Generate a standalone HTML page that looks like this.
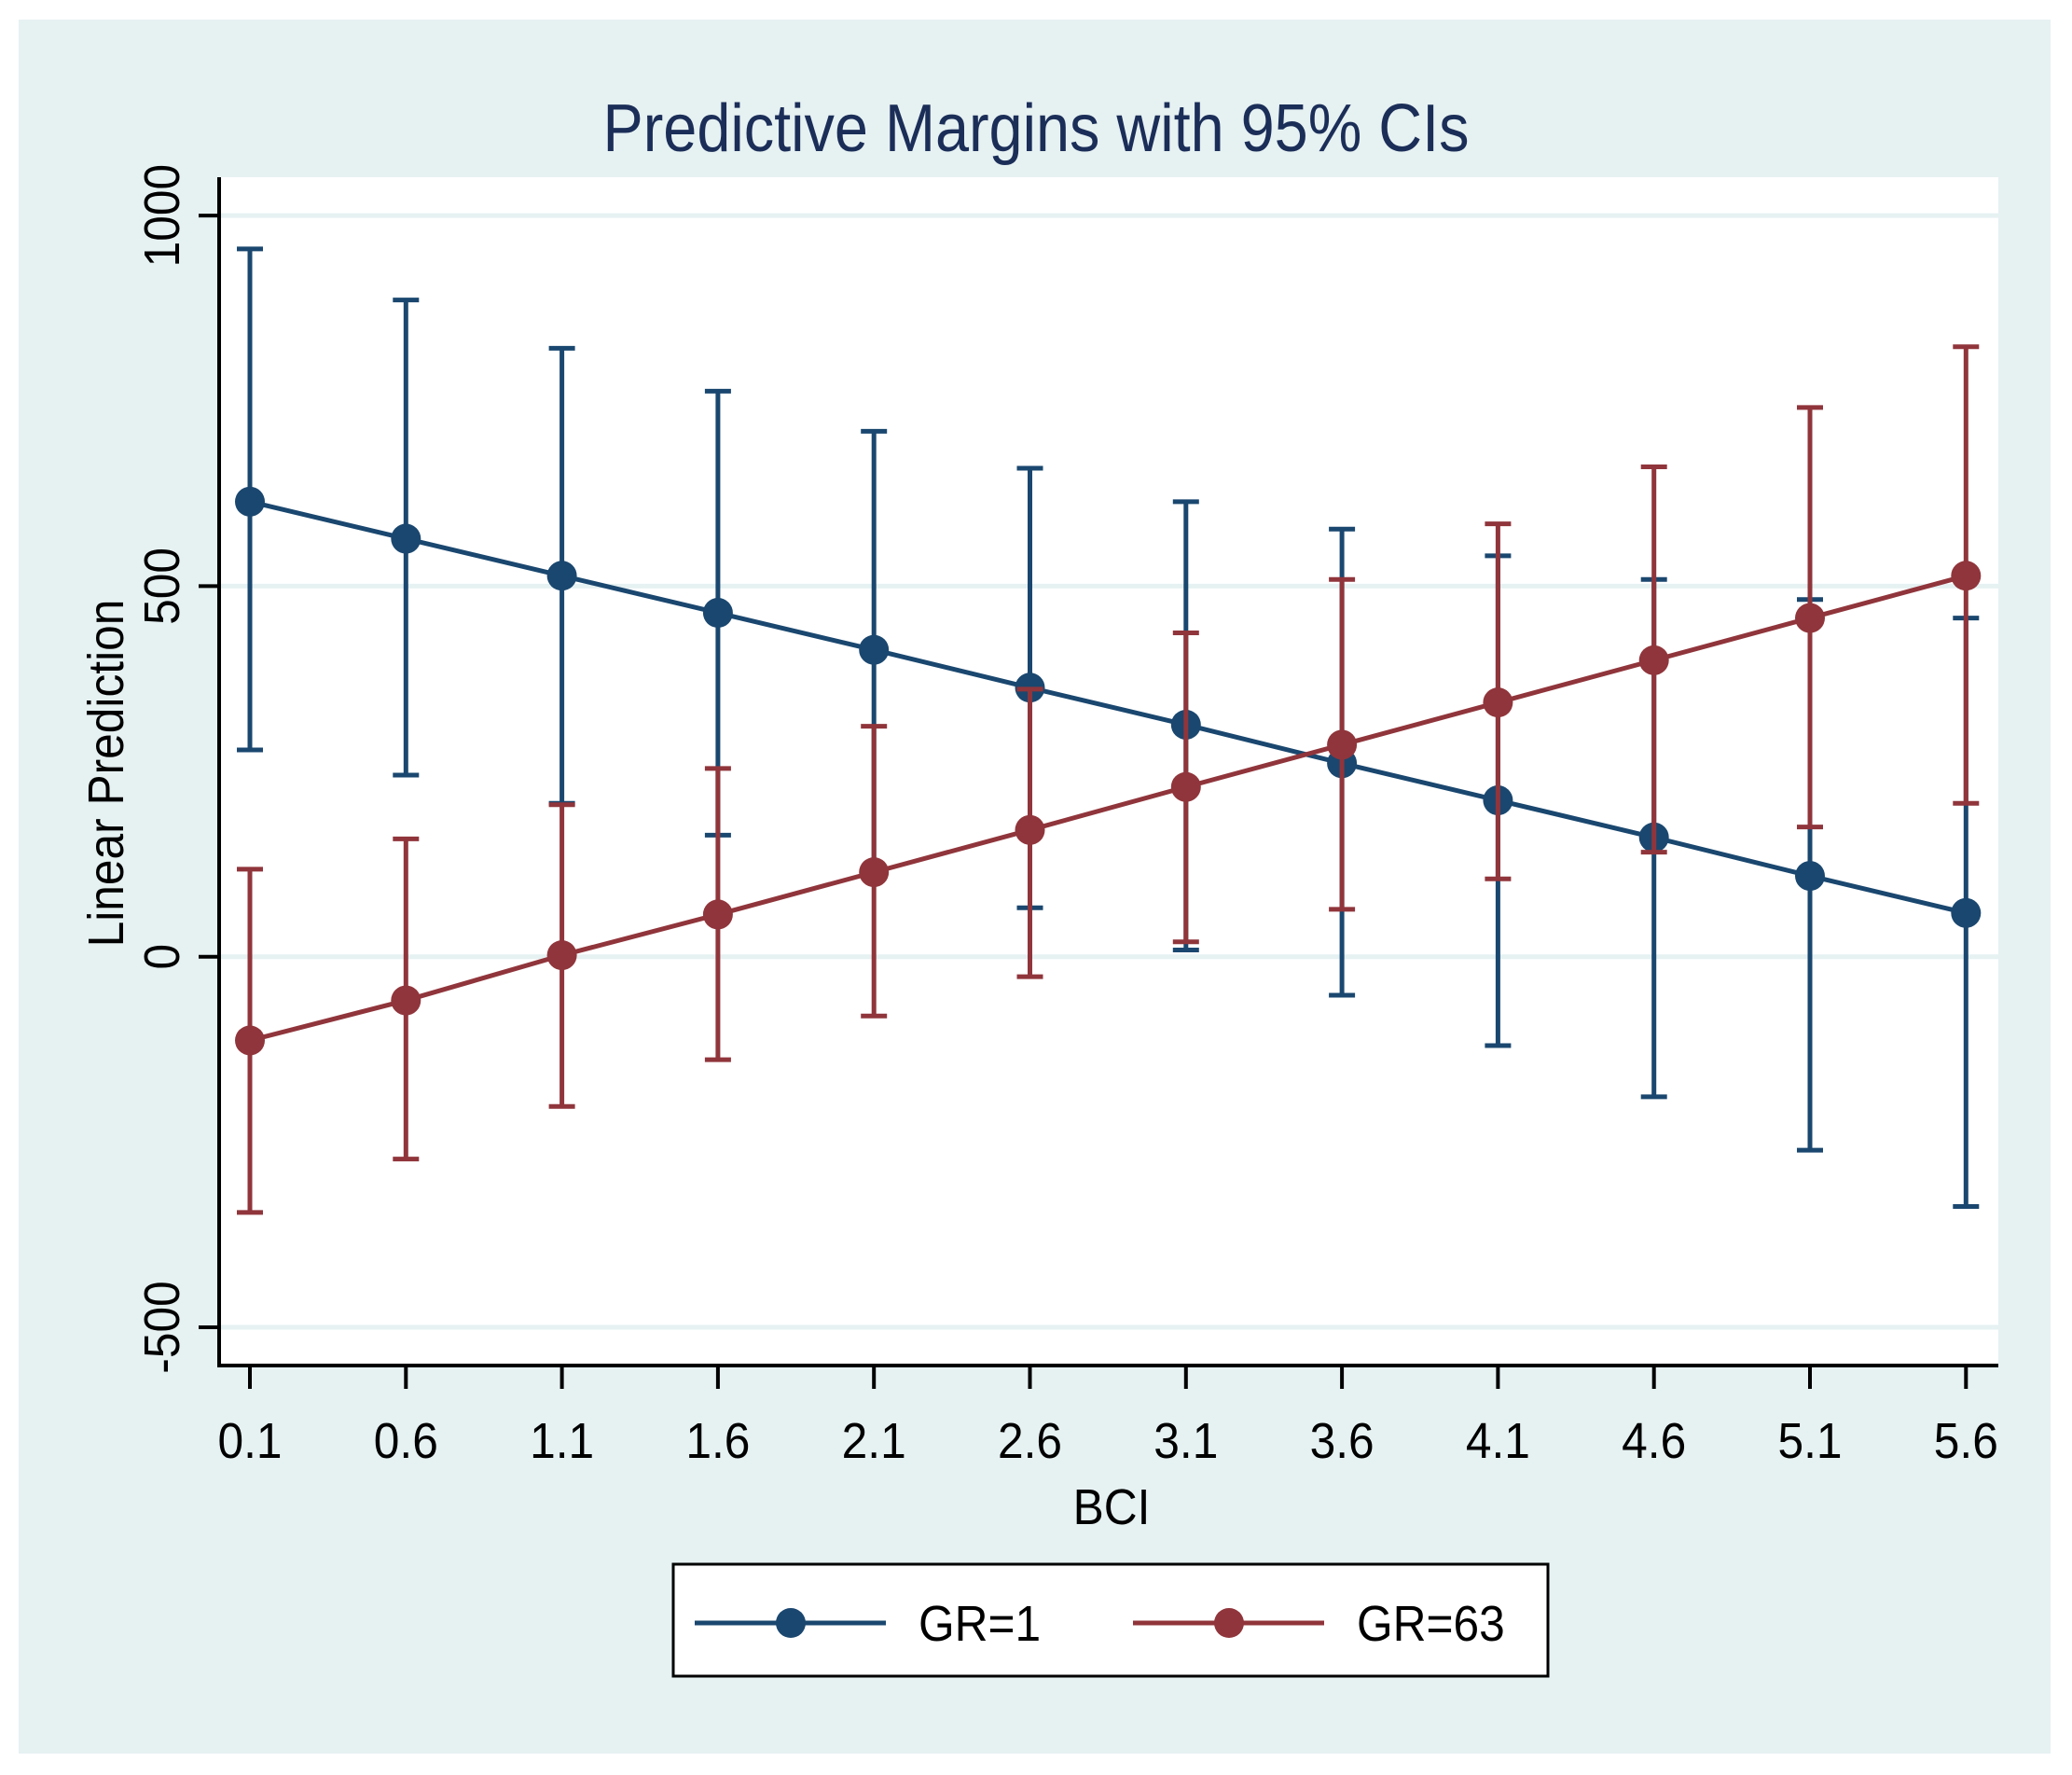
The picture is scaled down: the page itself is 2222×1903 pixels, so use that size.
<!DOCTYPE html>
<html><head><meta charset="utf-8"><style>
html,body{margin:0;padding:0;background:#fff;}
svg{display:block;font-family:"Liberation Sans",Arial,sans-serif;}
</style></head><body>
<svg id="chart" width="2222" height="1903" viewBox="0 0 2222 1903" xmlns="http://www.w3.org/2000/svg">
<rect x="0" y="0" width="2222" height="1903" fill="#ffffff"/>
<rect x="20" y="21" width="2179" height="1859" fill="#e6f1f2"/>
<rect x="235" y="190" width="1908" height="1274" fill="#ffffff"/>
<text transform="translate(1111,162) scale(0.9,1)" font-size="72" fill="#1b2e58" text-anchor="middle">Predictive Margins with 95% CIs</text>
<g id="grid"></g>
<g id="axes"></g>
<g id="series"></g>
<text transform="translate(1192,1634) scale(0.92,1)" font-size="54" text-anchor="middle">BCI</text>
<text transform="translate(132,829) rotate(-90) scale(0.92,1)" font-size="54" text-anchor="middle">Linear Prediction</text>
<g>
<rect x="722" y="1677" width="938" height="120" fill="#fff" stroke="#000" stroke-width="3"/>
<g>
<line x1="745" y1="1740" x2="950" y2="1740" stroke="#1a476f" stroke-width="5"/>
<circle cx="848" cy="1740" r="16" fill="#1a476f"/>
<text transform="translate(985,1759) scale(0.92,1)" font-size="54">GR=1</text>
</g>
<g>
<line x1="1215" y1="1740" x2="1420" y2="1740" stroke="#90353b" stroke-width="5"/>
<circle cx="1318" cy="1740" r="16" fill="#90353b"/>
<text transform="translate(1455,1759) scale(0.92,1)" font-size="54">GR=63</text>
</g>
</g>
</svg>
<script>
const categories = [0.1,0.6,1.1,1.6,2.1,2.6,3.1,3.6,4.1,4.6,5.1,5.6];
const xTickLabels = ["0.1","0.6","1.1","1.6","2.1","2.6","3.1","3.6","4.1","4.6","5.1","5.6"];
const yTicks = [-500,0,500,1000];
const gr1Values = [614,564,514,464,414,363,313,261,211,161,109,59];
const gr1Upper = [955,886,821,763,709,659,614,577,541,509,482,457];
const gr1Lower = [279,245,207,164,118,66,9,-52,-120,-189,-261,-337];
const gr63Values = [-113,-59,2,57,114,171,229,286,343,400,457,514];
const gr63Upper = [118,159,205,254,311,361,437,509,584,661,741,823];
const gr63Lower = [-345,-273,-202,-139,-80,-27,20,64,105,141,175,207];

const NS="http://www.w3.org/2000/svg";
function xS(v){return 268+(v-0.1)/0.5*167.3;}
function yS(v){return 1025.7-v*(397.3/500);}
function mk(tag,attrs,parent){const e=document.createElementNS(NS,tag);for(const k in attrs)e.setAttribute(k,attrs[k]);parent.appendChild(e);return e;}
const grid=document.getElementById('grid'),axes=document.getElementById('axes'),series=document.getElementById('series');
yTicks.forEach(t=>{
  const g=mk('line',{x1:237,x2:2143,y1:yS(t),y2:yS(t),stroke:'#e6f1f2','stroke-width':5},grid);
  
  
  const tk=mk('line',{x1:213,x2:235,y1:yS(t),y2:yS(t),stroke:'#000','stroke-width':4},axes);
  
  
  const lb=mk('text',{transform:`translate(192,${yS(t)}) rotate(-90) scale(0.92,1)`,'font-size':54,'text-anchor':'middle'},axes);
  lb.textContent=t;
  
  
});
const ya=mk('line',{x1:235,x2:235,y1:190,y2:1466,stroke:'#000','stroke-width':4},axes);


const xa=mk('line',{x1:233,x2:2143,y1:1464,y2:1464,stroke:'#000','stroke-width':4},axes);


categories.forEach((c,i)=>{
  const tk=mk('line',{x1:xS(c),x2:xS(c),y1:1464,y2:1489,stroke:'#000','stroke-width':4},axes);
  
  
  const lb=mk('text',{transform:`translate(${xS(c)},1563) scale(0.92,1)`,'font-size':54,'text-anchor':'middle'},axes);
  lb.textContent=xTickLabels[i];
  
  
});
function drawSeries(name,vals,up,lo,color){
  const g=mk('g',{},series);
  
  
  categories.forEach((c,i)=>{
    const x=xS(c);
    const e=mk('path',{d:`M${x-14},${yS(up[i])}H${x+14}M${x},${yS(up[i])}V${yS(lo[i])}M${x-14},${yS(lo[i])}H${x+14}`,stroke:color,'stroke-width':5,fill:'none'},g);
    
    
  });
  const pl=mk('polyline',{points:categories.map((c,i)=>xS(c)+','+yS(vals[i])).join(' '),stroke:color,'stroke-width':5,fill:'none'},g);
  
  
  categories.forEach((c,i)=>{
    const p=mk('circle',{cx:xS(c),cy:yS(vals[i]),r:16,fill:color},g);
    
    
  });
}
drawSeries('gr1',gr1Values,gr1Upper,gr1Lower,'#1a476f');
drawSeries('gr63',gr63Values,gr63Upper,gr63Lower,'#90353b');
</script>
</body></html>
